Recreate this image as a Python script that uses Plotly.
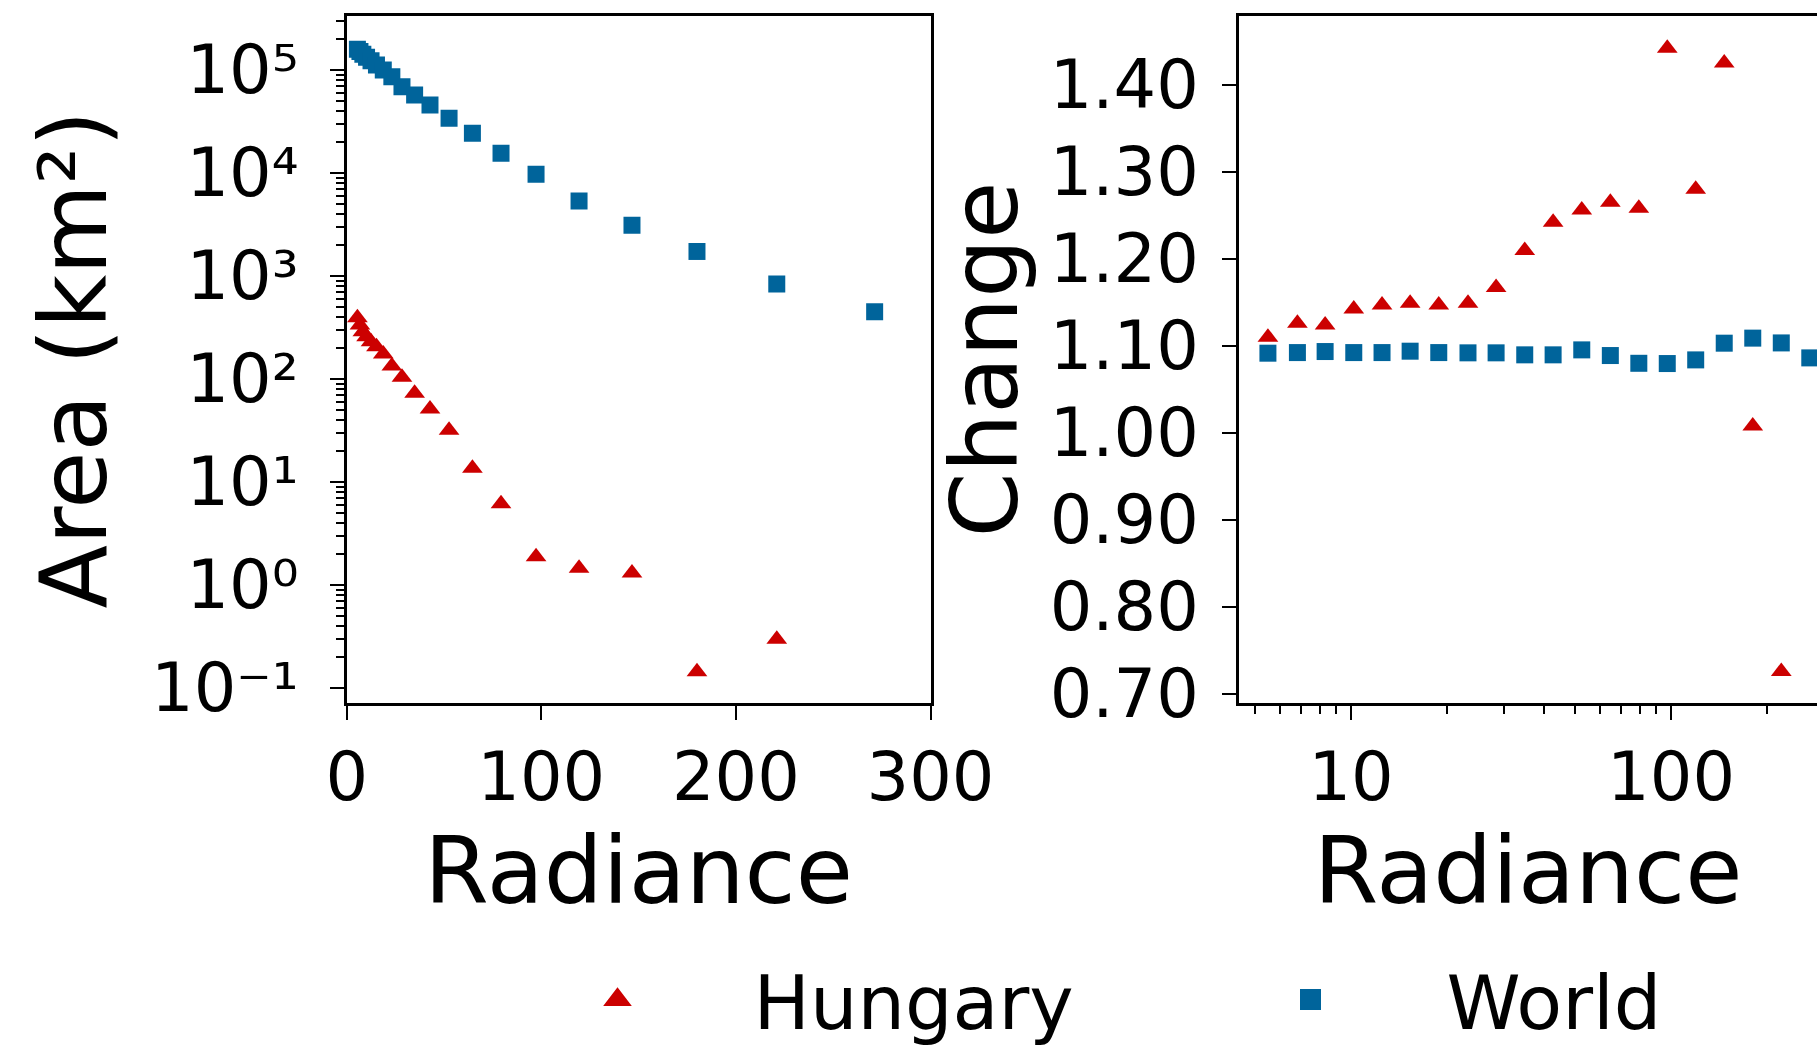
import plotly.graph_objects as go

# ---- data ----
radiance = [5.5, 6.8, 8.3, 10.2, 12.5, 15.3, 18.8, 23.2, 28.4, 34.9,
            42.8, 52.6, 64.6, 79.3, 97.3, 119.4, 146.6, 180.0, 221.0, 271.3]

hungary_area = [394, 334, 288, 257, 230, 206, 175, 134, 104, 72.6,
                51, 31.8, 13.6, 6.15, 1.88, 1.45, 1.31, 0.144, 0.297]
world_area = [159000, 151000, 142000, 133000, 123000, 112000, 100000, 86000, 68800, 57100,
              45700, 34000, 24300, 15500, 9700, 5350, 3100, 1730, 836, 450]

hungary_change = [1.110, 1.126, 1.124, 1.1425, 1.147, 1.149, 1.147, 1.149, 1.167, 1.2095,
                  1.242, 1.256, 1.265, 1.258, 1.442, 1.280, 1.425, 1.008, 0.726]
world_change = [1.0916, 1.0923, 1.0935, 1.0923, 1.0923, 1.0939, 1.0923, 1.092, 1.092, 1.0897,
                1.0897, 1.0954, 1.0889, 1.080, 1.0797, 1.0839, 1.1031, 1.1089, 1.1034, 1.0862]

area_ticks = [0.1, 1, 10, 100, 1000, 10000, 100000]
area_ticktext = ["10\u207b\u00b9", "10\u2070", "10\u00b9", "10\u00b2",
                 "10\u00b3", "10\u2074", "10\u2075"]
change_ticks = [0.70, 0.80, 0.90, 1.00, 1.10, 1.20, 1.30, 1.40]
radiance_lin_ticks = [0, 100, 200, 300]
radiance_log_ticks = [10, 100]

series_names = ["Hungary", "World"]
red = "#cc0000"
blue = "#00649b"

FONT = "DejaVu Sans"
TICK_FS = 67
TITLE_FS = 93

area_minor = [m * d for d in [0.1, 1, 10, 100, 1000, 10000, 100000] for m in range(2, 10)]
rad_minor = [m * d for d in [1, 10, 100] for m in range(2, 10)]

tri = dict(symbol="triangle-up", size=18, color=red)
sq = dict(symbol="square", size=17, color=blue)

fig = go.Figure()

# data traces
fig.add_trace(go.Scatter(x=radiance[:len(hungary_area)], y=hungary_area, mode="markers",
                         name=series_names[0], legendgroup="h", showlegend=False,
                         marker=tri, xaxis="x", yaxis="y"))
fig.add_trace(go.Scatter(x=radiance, y=world_area, mode="markers",
                         name=series_names[1], legendgroup="w", showlegend=False,
                         marker=sq, xaxis="x", yaxis="y"))
fig.add_trace(go.Scatter(x=radiance[:len(hungary_change)], y=hungary_change, mode="markers",
                         name=series_names[0], legendgroup="h", showlegend=False,
                         marker=tri, xaxis="x2", yaxis="y2"))
fig.add_trace(go.Scatter(x=radiance, y=world_change, mode="markers",
                         name=series_names[1], legendgroup="w", showlegend=False,
                         marker=sq, xaxis="x2", yaxis="y2"))

# legend entries (larger symbols, as in the reference legend); no data points of their own
fig.add_trace(go.Scatter(x=[None], y=[None], mode="markers", name=series_names[0], legendgroup="h",
                         showlegend=True,
                         marker=dict(symbol="triangle-up", size=16, color=red,
                                     line=dict(color=red, width=5)),
                         xaxis="x", yaxis="y"))
fig.add_trace(go.Scatter(x=[None], y=[None], mode="markers", name=series_names[1], legendgroup="w",
                         showlegend=True,
                         marker=dict(symbol="square", size=16, color=blue,
                                     line=dict(color=blue, width=5)),
                         xaxis="x", yaxis="y"))

axis_common = dict(showline=True, linecolor="black", linewidth=2.5, ticks="outside",
                   ticklen=14, tickwidth=2, tickcolor="black", showgrid=False, zeroline=False,
                   automargin=False,
                   tickfont=dict(family=FONT, size=TICK_FS, color="black"))
minor_common = dict(ticks="outside", ticklen=8, tickwidth=1.5, tickcolor="black", showgrid=False)

ydom = [1 - 703 / 1049, 1 - 16 / 1049]

fig.update_layout(
    template="none",
    width=1817, height=1049,
    margin=dict(l=0, r=0, t=0, b=0, pad=0, autoexpand=False),
    paper_bgcolor="white", plot_bgcolor="white",
    font=dict(family=FONT, color="black"),
    xaxis=dict(domain=[346.7 / 1817, 930.5 / 1817], anchor="y", range=[0, 300],
               tickmode="array", tickvals=radiance_lin_ticks, mirror=True,
               ticklabelstandoff=0,
               title=dict(text="Radiance", font=dict(size=TITLE_FS), standoff=23),
               **axis_common),
    yaxis=dict(domain=ydom, anchor="x", type="log", range=[-1.146, 5.524],
               tickmode="array", tickvals=area_ticks, ticktext=area_ticktext, mirror=True,
               ticklabelstandoff=18,
               minor=dict(tickmode="array", tickvals=area_minor, **minor_common),
               title=dict(text="Area (km\u00b2)", font=dict(size=TITLE_FS), standoff=14),
               **axis_common),
    xaxis2=dict(domain=[1239 / 1817, 1.0], anchor="y2", type="log", range=[0.65, 2.456],
                tickmode="array", tickvals=radiance_log_ticks, ticktext=["10", "100"], mirror=True,
                ticklabelstandoff=0,
                minor=dict(tickmode="array", tickvals=rad_minor, **minor_common),
                title=dict(text="Radiance", font=dict(size=TITLE_FS), standoff=23),
                **axis_common),
    yaxis2=dict(domain=ydom, anchor="x2", range=[0.6897, 1.479],
                tickmode="array", tickvals=change_ticks, tickformat=".2f",
                ticklabelstandoff=10,
                title=dict(text="Change", font=dict(size=TITLE_FS), standoff=2),
                **axis_common),
    showlegend=True,
    legend=dict(orientation="h", x=481.5 / 1817, xanchor="left", y=0.047, yanchor="middle",
                font=dict(family=FONT, size=75, color="black"), itemwidth=262,
                entrywidth=416, bgcolor="rgba(0,0,0,0)", borderwidth=0),
)

fig.write_html("out.html")
